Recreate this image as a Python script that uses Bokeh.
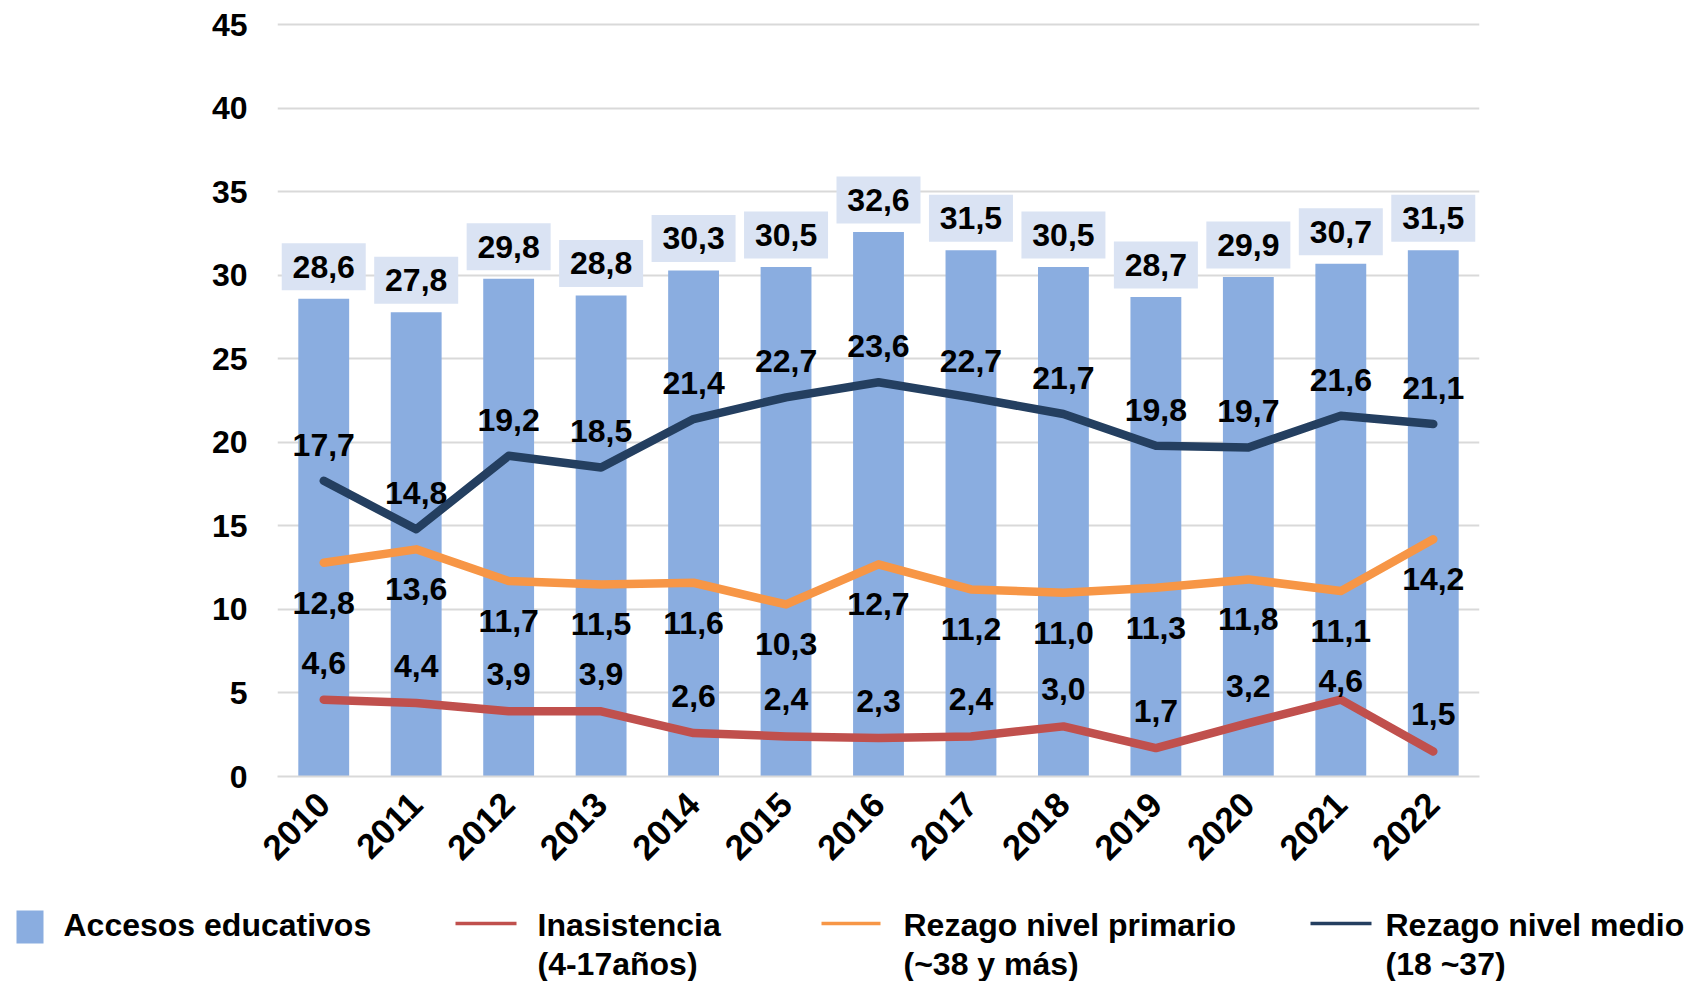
import math
from bokeh.plotting import figure
from bokeh.models import FactorRange, Range1d, FixedTicker, ColumnDataSource
from bokeh.core.properties import value
from bokeh.embed import file_html
from bokeh.resources import INLINE

# ---------------- data ----------------
years = ["2010", "2011", "2012", "2013", "2014", "2015", "2016",
         "2017", "2018", "2019", "2020", "2021", "2022"]
accesos = [28.6, 27.8, 29.8, 28.8, 30.3, 30.5, 32.6, 31.5, 30.5, 28.7, 29.9, 30.7, 31.5]
inasistencia = [4.6, 4.4, 3.9, 3.9, 2.6, 2.4, 2.3, 2.4, 3.0, 1.7, 3.2, 4.6, 1.5]
rezago_primario = [12.8, 13.6, 11.7, 11.5, 11.6, 10.3, 12.7, 11.2, 11.0, 11.3, 11.8, 11.1, 14.2]
rezago_medio = [17.7, 14.8, 19.2, 18.5, 21.4, 22.7, 23.6, 22.7, 21.7, 19.8, 19.7, 21.6, 21.1]
y_ticks = [0, 5, 10, 15, 20, 25, 30, 35, 40, 45]
legend_labels = ["Accesos educativos", "Inasistencia\n(4-17años)",
                 "Rezago nivel primario\n(~38 y más)", "Rezago nivel medio\n(18 ~37)"]

# label offsets (screen px) for Inasistencia labels
red_label_offsets = [-37, -37, -37, -37, -37, -37, -37, -37, -37, -37, -37, -19, -37]

C_BAR = "#8AADE0"
C_BOX = "#DAE3F3"
C_RED = "#C0504D"
C_ORA = "#F79646"
C_NAV = "#243F60"
FONT = value("Liberation Sans")

W = 1693
H1 = 893
FRAME_TOP = 21
FRAME_BOTTOM = 776
Y_MAX = 45.2
PX_PER_UNIT = (FRAME_BOTTOM - FRAME_TOP) / Y_MAX
BOX_GAP_PX = 32  # label box centre above bar top


def fmt(v):
    return f"{v:.1f}".replace(".", ",")


src = ColumnDataSource(dict(
    x=years,
    acc=accesos, acc_t=[fmt(v) for v in accesos],
    acc_box=[v + BOX_GAP_PX / PX_PER_UNIT for v in accesos],
    ina=inasistencia, ina_t=[fmt(v) for v in inasistencia], ina_off=red_label_offsets,
    pri=rezago_primario, pri_t=[fmt(v) for v in rezago_primario],
    med=rezago_medio, med_t=[fmt(v) for v in rezago_medio],
))

p = figure(width=W, height=H1, x_range=FactorRange(*years, range_padding=0),
           y_range=Range1d(0, Y_MAX), toolbar_location=None, output_backend="svg",
           min_border_left=277, min_border_right=W - 1479, min_border_top=FRAME_TOP,
           min_border_bottom=H1 - FRAME_BOTTOM)
p.outline_line_color = None
p.xgrid.grid_line_color = None
p.ygrid.grid_line_color = "#D9D9D9"
p.ygrid.grid_line_width = 2
p.yaxis.ticker = FixedTicker(ticks=y_ticks)
p.yaxis.axis_line_color = None
p.yaxis.major_tick_line_color = None
p.yaxis.minor_tick_line_color = None
p.yaxis.major_label_standoff = 24
p.xaxis.axis_line_color = "#D9D9D9"
p.xaxis.axis_line_width = 2
p.xaxis.major_tick_line_color = None
p.xaxis.minor_tick_line_color = None
p.xaxis.major_label_orientation = math.pi / 4
p.xaxis.major_label_standoff = 16
for ax in (p.xaxis, p.yaxis):
    ax.major_label_text_font = "Liberation Sans"
    ax.major_label_text_font_style = "bold"
    ax.major_label_text_color = "black"
p.yaxis.major_label_text_font_size = "32px"
p.xaxis.major_label_text_font_size = "35px"

p.vbar(x="x", top="acc", width=0.55, source=src, fill_color=C_BAR, line_color=None)
p.rect(x="x", y="acc_box", width=84, height=47, width_units="screen", height_units="screen",
       source=src, fill_color=C_BOX, line_color=None)
p.line(x="x", y="ina", source=src, line_color=C_RED, line_width=8.5, line_join="round", line_cap="round")
p.line(x="x", y="pri", source=src, line_color=C_ORA, line_width=8.5, line_join="round", line_cap="round")
p.line(x="x", y="med", source=src, line_color=C_NAV, line_width=8.5, line_join="round", line_cap="round")

common = dict(text_font=FONT, text_font_style="bold", text_font_size="32px",
              text_color="black", text_align="center", text_baseline="middle", source=src)
p.text(x="x", y="acc", text="acc_t", y_offset=-BOX_GAP_PX, **common)
p.text(x="x", y="med", text="med_t", y_offset=-36, **common)
p.text(x="x", y="pri", text="pri_t", y_offset=40, **common)
p.text(x="x", y="ina", text="ina_t", y_offset="ina_off", **common)

# ---------------- legend (second root, page coordinates) ----------------
H2 = 981 - H1
leg = figure(width=W, height=H2, x_range=Range1d(0, W),
             y_range=Range1d(H1 + H2, H1), toolbar_location=None,
             output_backend="svg", min_border=0, x_axis_type=None, y_axis_type=None)
leg.outline_line_color = None
leg.xgrid.grid_line_color = None
leg.ygrid.grid_line_color = None

leg.quad(left=[16], right=[43], top=[910], bottom=[943], fill_color=C_BAR, line_color=None)
leg.segment(x0=[455, 821, 1310], x1=[516, 880, 1371], y0=[923, 923, 923], y1=[923, 923, 923],
            line_color=[C_RED, C_ORA, C_NAV], line_width=3.5)
leg.text(x=[63, 537, 903, 1385], y=[906, 906, 906, 906], text=legend_labels,
         text_font=FONT, text_font_style="bold", text_font_size="32px",
         text_color="black", text_align="left", text_baseline="top", text_line_height=1.1)

open("out.html", "w").write(file_html([p, leg], INLINE))
